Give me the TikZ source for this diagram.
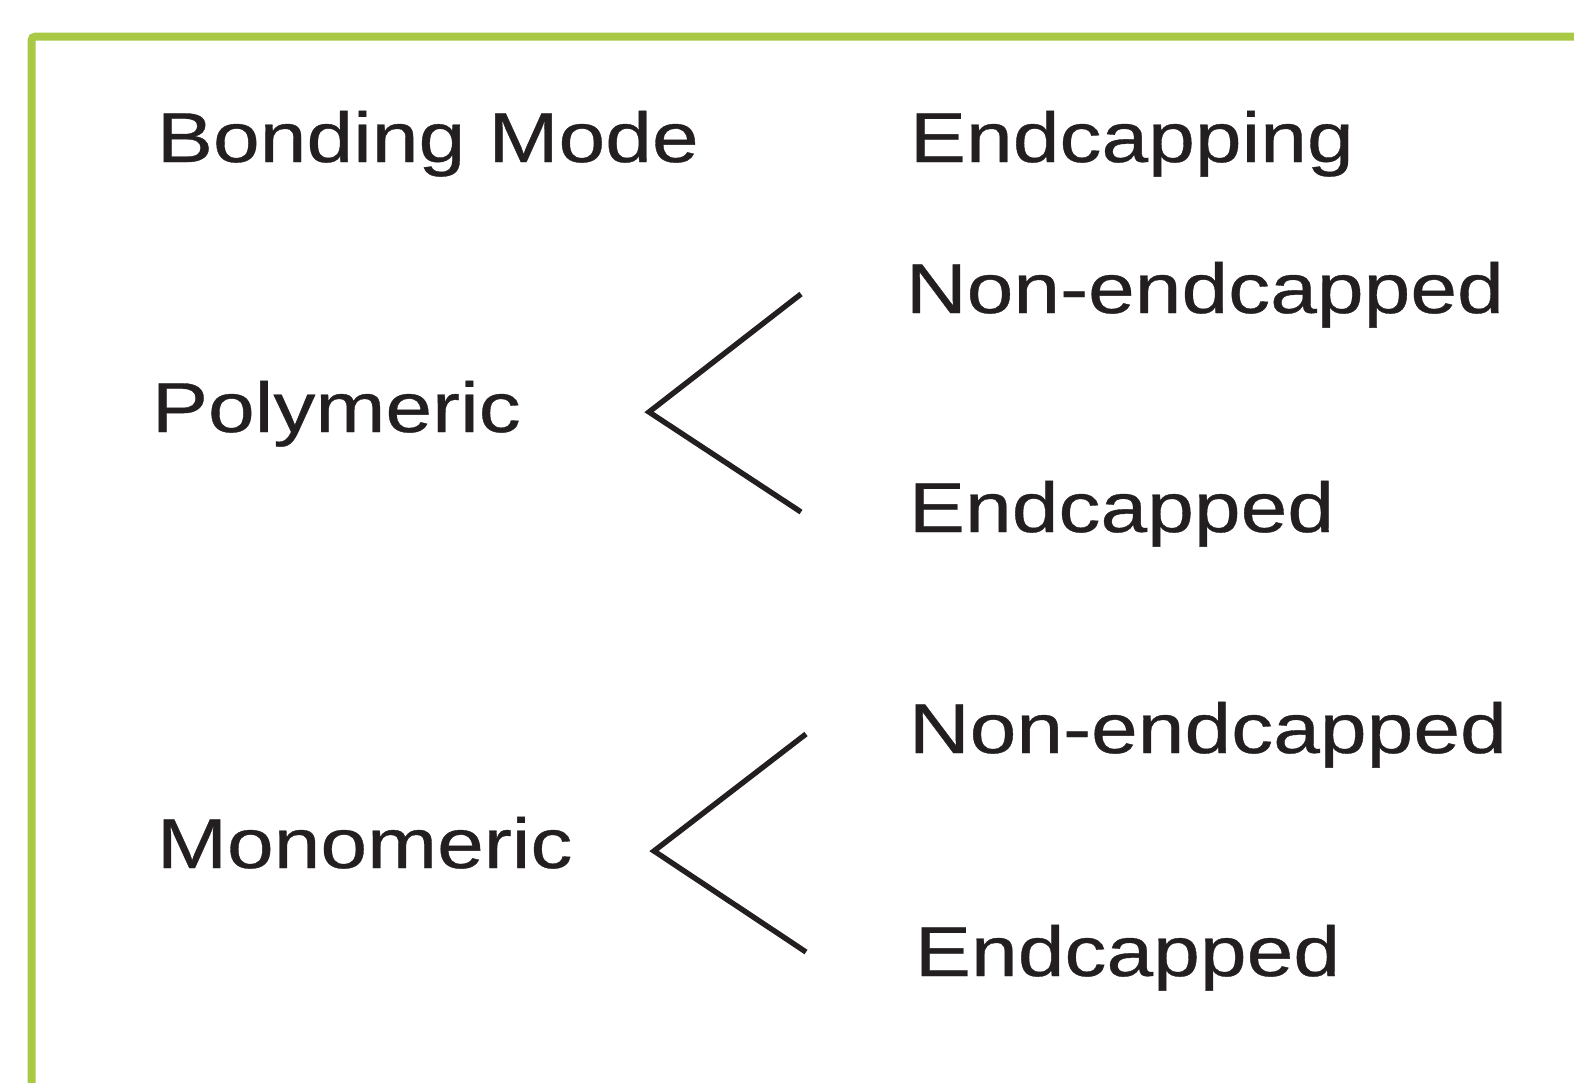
\documentclass[tikz,border=0pt]{standalone}
\usepackage{fontspec}
\setmainfont{Liberation Sans}[FakeStretch=1.19,FakeBold=0.5]
\definecolor{framegreen}{RGB}{168,200,70}
\definecolor{inkdark}{RGB}{35,31,32}
\begin{document}
\begin{tikzpicture}[x=0.5pt,y=-0.5pt,
  lbl/.style={anchor=base west,inner sep=0pt,outer sep=0pt,text=inkdark,font=\fontsize{35.3}{42}\selectfont},
  branch/.style={draw=inkdark,line width=2.7pt,line join=miter}]
\useasboundingbox (0,0) rectangle (1574,1082);
\draw[framegreen,line width=4pt,rounded corners=2pt] (31.5,1090) -- (31.5,36.5) -- (1590,36.5);
\node[lbl] (bm) at (157,162) {Bonding Mode};
\node[lbl] (ec) at (910,162) {Endcapping};
\node[lbl] (ne1) at (906,313) {Non-endcapped};
\node[lbl] (poly) at (152,432) {Polymeric};
\node[lbl] (ed1) at (909,532) {Endcapped};
\node[lbl] (ne2) at (909,753) {Non-endcapped};
\node[lbl] (mono) at (157,868) {Monomeric};
\node[lbl] (ed2) at (915,976) {Endcapped};
\coordinate (a1) at (801,294);
\coordinate (v1) at (649,412);
\coordinate (b1) at (801,512);
\coordinate (a2) at (806,734);
\coordinate (v2) at (654,851);
\coordinate (b2) at (806,952);
\draw[branch] (a1) -- (v1) -- (b1);
\draw[branch] (a2) -- (v2) -- (b2);
\end{tikzpicture}
\end{document}
